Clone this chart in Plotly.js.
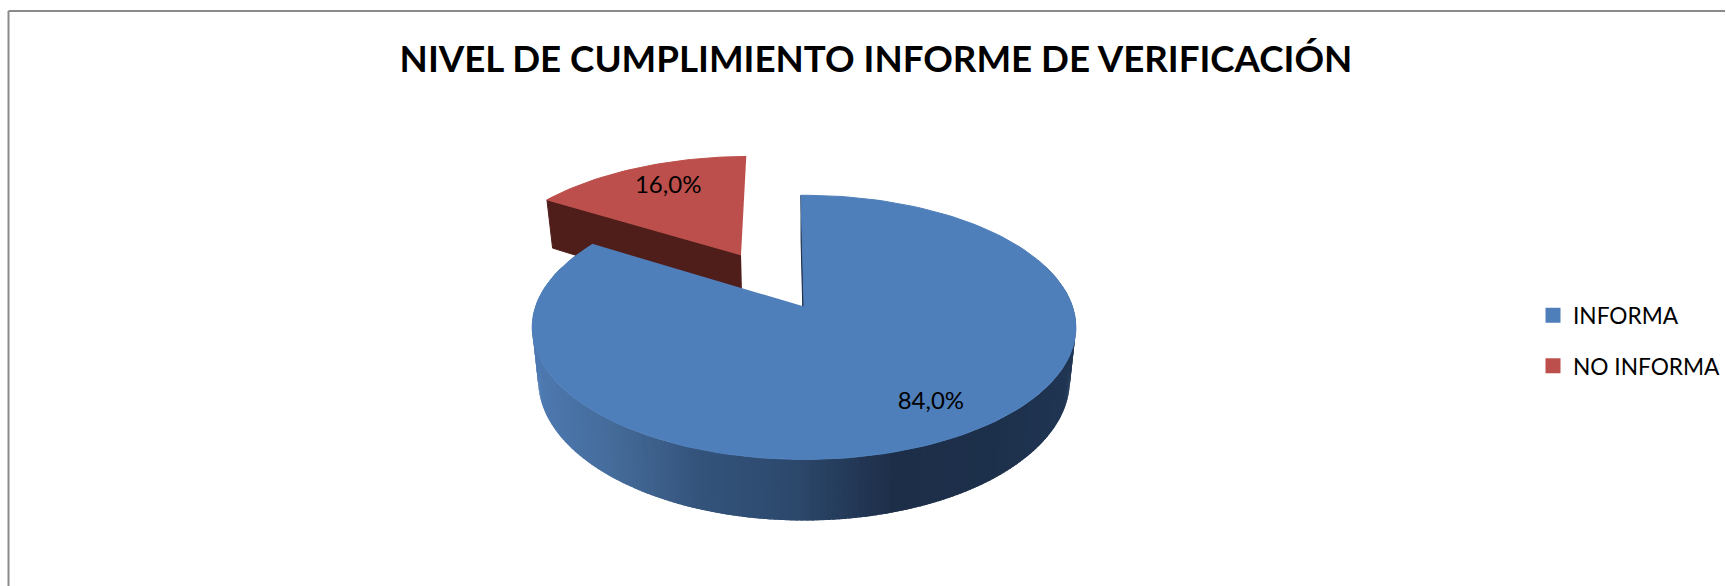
<!DOCTYPE html>
<html>
<head>
<meta charset="utf-8">
<script src="https://cdn.plot.ly/plotly-3.0.1.min.js"></script>
<style>html,body{margin:0;padding:0;background:#fff}</style>
</head>
<body>
<div id="chart" style="width:1726px;height:586px"></div>
<script>
const categories = ["INFORMA", "NO INFORMA"];
const shares = [84.0, 16.0];
const chartTitle = "NIVEL DE CUMPLIMIENTO INFORME DE VERIFICACIÓN";

const topColors = ["#4f7fbb", "#bc4f4b"];
const redWall = "#4f1e1a";
const wallStops = [[533,[78,122,178]],[620,[68,106,152]],[700,[52,84,124]],[800,[44,72,108]],[900,[29,46,72]],[1000,[29,48,75]],[1078,[32,54,84]]];
const font = "Lato, 'Open Sans', sans-serif";

// Perspective view of the disc
const view = {cx: 804.5, cy: 306.5, A: 128.8, B: 268.6, k: 0.158, depth: 51.4, shrink: 0.978};
const startDeg = -0.75;
const explodeRed = 0.492;
const redDepthFactor = 1.08;
const redSideShift = -0.008;

function project(u, v, low, depthFactor) {
  const d = 1 + view.k * v;
  const X = view.B * u / d, Y = -view.A * v / d;
  return low ? [view.cx + X * view.shrink, view.cy + Y + view.depth * (depthFactor || 1) / d]
             : [view.cx + X, view.cy + Y];
}
const rad = a => a * Math.PI / 180;
function rim(a, off, low, f) { return project(off[0] + Math.sin(rad(a)), off[1] + Math.cos(rad(a)), low, f); }
function range(a, b, n) { const r = []; for (let i = 0; i <= n; i++) r.push(a + (b - a) * i / n); return r; }
function poly(points, color, stroke) {
  return {type: "scatter", mode: "lines", x: points.map(p => p[0]), y: points.map(p => p[1]),
    fill: "toself", fillcolor: color, line: {color: color, width: stroke === undefined ? 1 : stroke}, showlegend: false, hoverinfo: "skip"};
}
function wallColor(x) {
  for (let i = 1; i < wallStops.length; i++) {
    if (x <= wallStops[i][0]) {
      const t = (x - wallStops[i-1][0]) / (wallStops[i][0] - wallStops[i-1][0]);
      const c = wallStops[i-1][1].map((q, j) => Math.round(q + (wallStops[i][1][j] - q) * Math.max(0, t)));
      return `rgb(${c.join(",")})`;
    }
  }
  return `rgb(${wallStops[wallStops.length-1][1].join(",")})`;
}

const total = shares[0] + shares[1];
const blueEnd = startDeg + 360 * shares[0] / total;
const redEnd = blueEnd + 360 * shares[1] / total;
const redMid = (blueEnd + redEnd) / 2, blueMid = (startDeg + blueEnd) / 2;
const noOff = [0, 0];
const redOff = [explodeRed * Math.sin(rad(redMid)) + redSideShift, explodeRed * Math.cos(rad(redMid))];

const traces = [];
// Exploded slice: wall, then face
traces.push(poly([project(redOff[0], redOff[1]), rim(blueEnd, redOff), rim(blueEnd, redOff, true, redDepthFactor), project(redOff[0], redOff[1], true, redDepthFactor)], redWall));
traces.push(poly([project(redOff[0], redOff[1])].concat(range(blueEnd, redEnd, 40).map(a => rim(a, redOff))), topColors[1]));
// Big slice: cut-wall sliver, shaded rim, face
traces.push(poly([project(0, 0), rim(startDeg, noOff), rim(startDeg, noOff, true), project(0, 0, true)], "#1d2e48"));
const steps = range(70, 288, 220);
for (let i = steps.length - 2; i >= 0; i--) {
  // each band reaches under the previously drawn one, so no seam is left
  const a = steps[i], b = steps[i + 1] + 0.8;
  const quad = [rim(a, noOff), rim(b, noOff), rim(b, noOff, true), rim(a, noOff, true)];
  traces.push(poly(quad, wallColor((quad[0][0] + rim(steps[i + 1], noOff)[0]) / 2), 0));
}
traces.push(poly([project(0, 0)].concat(range(startDeg, blueEnd, 160).map(a => rim(a, noOff))), topColors[0]));

// Percentage labels
const fmt = v => v.toFixed(1).replace(".", ",") + "%";
const blueLabelAngle = blueMid - 2.8, redLabelAngle = redMid + 2;
const bp = project(0.79 * Math.sin(rad(blueLabelAngle)), 0.79 * Math.cos(rad(blueLabelAngle)));
const rp = project(redOff[0] + 0.74 * Math.sin(rad(redLabelAngle)), redOff[1] + 0.74 * Math.cos(rad(redLabelAngle)));
traces.push({type: "scatter", mode: "text", x: [bp[0], rp[0]], y: [bp[1], rp[1]],
  text: shares.map(fmt), textposition: "middle center",
  textfont: {family: font, size: 24, color: "#000"}, showlegend: false, hoverinfo: "skip"});

// Legend entries
categories.forEach((c, i) => traces.push({type: "scatter", mode: "markers", x: [null], y: [null], name: c,
  legendgroup: c, marker: {symbol: "square", size: 15, color: topColors[i]}}));

const layout = {
  width: 1726, height: 586, margin: {l: 0, r: 0, t: 0, b: 0},
  paper_bgcolor: "#fff", plot_bgcolor: "#fff",
  title: {text: "<b>" + chartTitle + "</b>", x: 876.5 / 1726, xanchor: "center", xref: "paper",
    y: 1 - 59 / 586, yanchor: "middle", yref: "container", font: {family: font, size: 36.7, color: "#000"}},
  xaxis: {range: [0, 1726], visible: false, fixedrange: true},
  yaxis: {range: [586, 0], visible: false, fixedrange: true},
  showlegend: true,
  legend: {x: 1533.5 / 1726, xanchor: "left", y: 1 - 294 / 586, yanchor: "top", tracegroupgap: 18,
    font: {family: font, size: 22.7, color: "#000"}, bgcolor: "rgba(0,0,0,0)", itemclick: false, itemdoubleclick: false},
  shapes: [
    {type: "line", xref: "paper", yref: "paper", x0: 8.5 / 1726, x1: 1, y0: 1 - 11 / 586, y1: 1 - 11 / 586, line: {color: "#8a8a8a", width: 2}},
    {type: "line", xref: "paper", yref: "paper", x0: 8.5 / 1726, x1: 8.5 / 1726, y0: 1 - 11 / 586, y1: 0, line: {color: "#8a8a8a", width: 2}}
  ]
};
Plotly.newPlot("chart", traces, layout, {displayModeBar: false});
</script>
</body>
</html>
